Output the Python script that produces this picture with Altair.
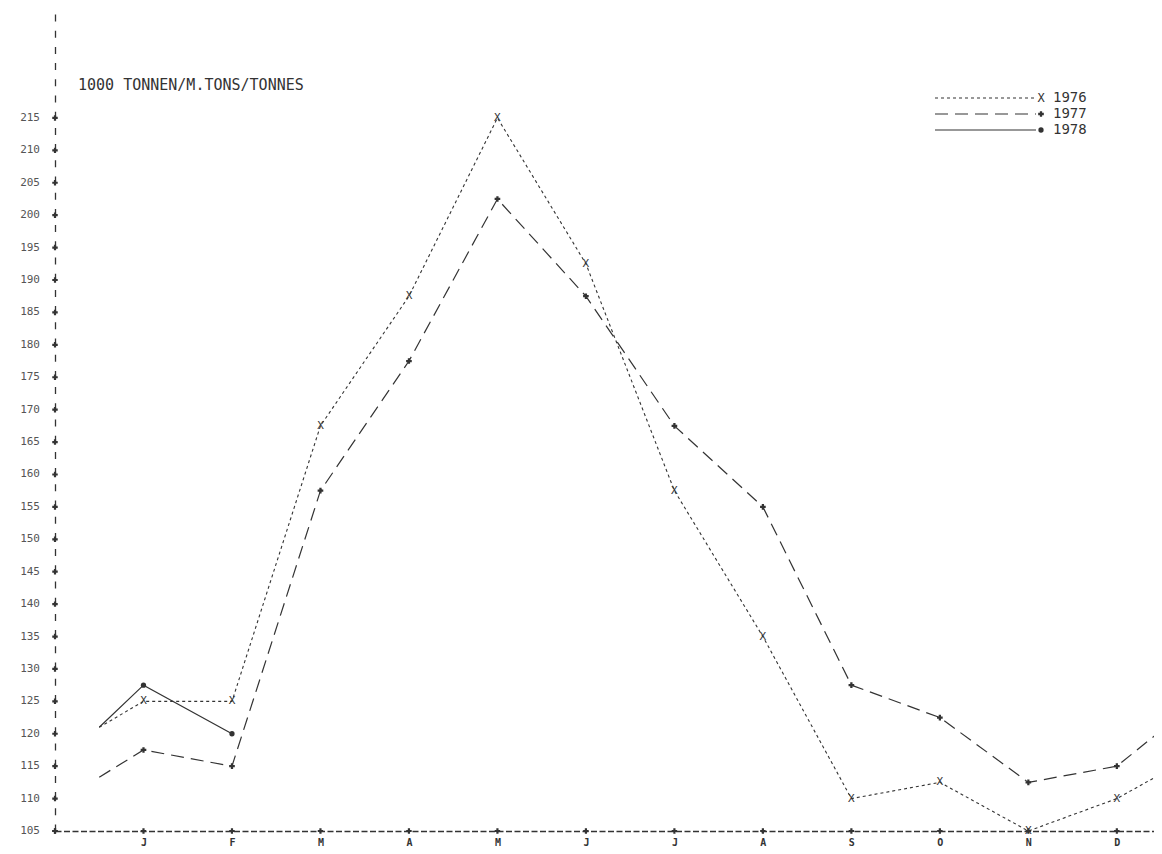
import altair as alt
import pandas as pd

# ---- data ----
month_letters = ["J", "F", "M", "A", "M", "J", "J", "A", "S", "O", "N", "D"]
month_pos = [1, 2, 3, 4, 5, 6, 7, 8, 9, 10, 11, 12]
line_pos = [0.5] + month_pos + [12.5]

v1976 = [121, 125, 125, 167.5, 187.5, 215, 192.5, 157.5, 135, 110, 112.5, 105, 110, 113.8]
v1977 = [113.3, 117.5, 115, 157.5, 177.5, 202.5, 187.5, 167.5, 155, 127.5, 122.5, 112.5, 115, 120.5]
pos1978 = [0.5, 1, 2]
v1978 = [121, 127.5, 120]

y_ticks = list(range(105, 216, 5))
unit_title = "1000 TONNEN/M.TONS/TONNES"
series_names = ["1976", "1977", "1978"]

INK = "#333333"
MONO = "DejaVu Sans Mono"

df76 = pd.DataFrame({"m": line_pos, "v": v1976})
df77 = pd.DataFrame({"m": line_pos, "v": v1977})
df78 = pd.DataFrame({"m": pos1978, "v": v1978})
mk76 = df76[(df76.m >= 1) & (df76.m <= 12)]
mk77 = df77[(df77.m >= 1) & (df77.m <= 12)]
mk78 = df78[(df78.m >= 1) & (df78.m <= 12)]

xs = alt.Scale(domain=[0, 12.42], nice=False, zero=False)
ys = alt.Scale(domain=[105, 231.5], nice=False, zero=False)

label_arr = "[''," + ",".join("'%s'" % l for l in month_letters) + "]"

x_axis = alt.Axis(values=month_pos, labelExpr=label_arr + "[datum.value]", title=None,
                  grid=False, ticks=False, domainDash=[6, 2.5], domainColor=INK,
                  domainWidth=1.3, labelFont=MONO, labelFontSize=10, labelFontWeight="bold",
                  labelColor=INK, labelPadding=6, labelOverlap=False)
y_axis = alt.Axis(values=y_ticks, title=None, grid=False, ticks=False, labels=False,
                  domainDash=[7, 9.2], domainColor=INK, domainWidth=1.3)

XE = alt.X("m:Q", scale=xs)
YE = alt.Y("v:Q", scale=ys)

base_axes = alt.Chart(pd.DataFrame({"m": [0, 12.42], "v": [105, 105]})).mark_line(opacity=0).encode(
    x=alt.X("m:Q", scale=xs, axis=x_axis), y=alt.Y("v:Q", scale=ys, axis=y_axis))

# y tick labels as text marks (all of them shown)
ylab_df = pd.DataFrame({"m": [0] * len(y_ticks), "v": y_ticks, "t": [str(v) for v in y_ticks]})
ylabels = alt.Chart(ylab_df).mark_text(font=MONO, fontSize=11, color="#555555", align="right",
                                       baseline="middle", dx=-15).encode(x=XE, y=YE, text="t:N")

# "+" marks on the axes
ytick_df = pd.DataFrame({"m": [0] * len(y_ticks), "v": y_ticks})
xtick_df = pd.DataFrame({"m": [0] + month_pos, "v": [105] * 13})
crosses = alt.Chart(pd.concat([ytick_df, xtick_df])).mark_point(
    shape="cross", filled=True, size=30, color=INK, opacity=1).encode(x=XE, y=YE)

l76 = alt.Chart(df76).mark_line(color=INK, strokeWidth=1.1, strokeDash=[3, 3], clip=True).encode(x=XE, y=YE)
l77 = alt.Chart(df77).mark_line(color=INK, strokeWidth=1.2, strokeDash=[13, 7], clip=True).encode(x=XE, y=YE)
l78 = alt.Chart(df78).mark_line(color=INK, strokeWidth=1.2, clip=True).encode(x=XE, y=YE)

m76 = alt.Chart(mk76).mark_text(text="X", font=MONO, fontSize=11, color=INK,
                                align="center", baseline="middle").encode(x=XE, y=YE)
m77 = alt.Chart(mk77).mark_point(shape="cross", filled=True, size=32, color=INK, opacity=1).encode(x=XE, y=YE)
m78 = alt.Chart(mk78).mark_point(shape="circle", filled=True, size=28, color=INK, opacity=1).encode(x=XE, y=YE)

title_df = pd.DataFrame({"t": [unit_title]})
title = alt.Chart(title_df).mark_text(font=MONO, fontSize=15, color=INK, align="left",
                                      baseline="middle").encode(
    x=alt.value(23), y=alt.value(74), text="t:N")

# custom legend
leg_layers = []
dashes = [[3, 3], [13, 7], None]
for i, name in enumerate(series_names):
    ypix = 87 + 16 * i
    d = pd.DataFrame({"t": [name]})
    kw = dict(color=INK, strokeWidth=1.2)
    if dashes[i]:
        kw["strokeDash"] = dashes[i]
    leg_layers.append(alt.Chart(d).mark_rule(**kw).encode(
        x=alt.value(880), x2=alt.value(981), y=alt.value(ypix)))
    if i == 0:
        leg_layers.append(alt.Chart(d).mark_text(text="X", font=MONO, fontSize=12, color=INK,
                                                 align="center", baseline="middle").encode(
            x=alt.value(986), y=alt.value(ypix)))
    elif i == 1:
        leg_layers.append(alt.Chart(d).mark_point(shape="cross", filled=True, size=32, color=INK,
                                                  opacity=1).encode(x=alt.value(986), y=alt.value(ypix)))
    else:
        leg_layers.append(alt.Chart(d).mark_point(shape="circle", filled=True, size=28, color=INK,
                                                  opacity=1).encode(x=alt.value(986), y=alt.value(ypix)))
    leg_layers.append(alt.Chart(d).mark_text(font=MONO, fontSize=14, color=INK, align="left",
                                             baseline="middle").encode(
        x=alt.value(998), y=alt.value(ypix), text="t:N"))

chart = alt.layer(base_axes, ylabels, l76, l77, l78, crosses, m76, m77, m78, title, *leg_layers).properties(
    width=1099, height=820,
    padding={"left": 47, "top": 3, "right": 0, "bottom": 15},
    autosize=alt.AutoSizeParams(type="none"),
    background="white",
).configure_view(strokeWidth=0)

chart.save("out.html", embed_options={"renderer": "svg", "actions": False})
